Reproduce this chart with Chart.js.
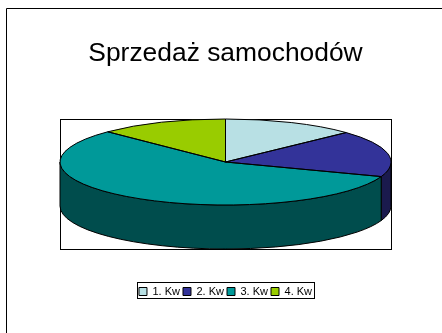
<!DOCTYPE html>
<html>
<head>
<meta charset="utf-8">
<style>
  html, body { margin: 0; padding: 0; background: #fff; }
  canvas { display: block; }
</style>
<script src="https://cdn.jsdelivr.net/npm/chart.js@4/dist/chart.umd.min.js"></script>
</head>
<body>
<canvas id="pieChart" width="442" height="333"></canvas>
<script>
const quarters = ['1. Kw', '2. Kw', '3. Kw', '4. Kw'];
const sales = [13, 17.5, 56.9, 12.6];
const topColors = ['#b8e0e4', '#333399', '#009999', '#99cc00'];
const sideColors = ['#5c7072', '#1a1a4d', '#004d4d', '#4d6600'];

// where the flattened pie sits on the page
const pieX = 225.5, pieY = 162, pieRx = 165.5, pieRy = 43, pieDepth = 44;

function ellipsePath(ctx, r, start, end, dy, reverse) {
  ctx.save();
  ctx.translate(pieX, pieY + dy);
  ctx.scale(pieRx / r, pieRy / r);
  ctx.arc(0, 0, r, start, end, reverse);
  ctx.restore();
}

const flatPie = {
  id: 'flatPie',
  beforeDraw(chart) {
    const ctx = chart.ctx;
    ctx.save();
    ctx.strokeStyle = '#000';
    ctx.lineWidth = 1;
    // slide frame, runs off the page right and bottom
    ctx.beginPath();
    ctx.moveTo(6.5, 333);
    ctx.lineTo(6.5, 8.5);
    ctx.lineTo(442, 8.5);
    ctx.stroke();
    // plot frame
    ctx.strokeRect(60.5, 119.5, 331, 130);
    ctx.restore();
  },
  beforeDatasetsDraw(chart) {
    const ctx = chart.ctx;
    const arcs = chart.getDatasetMeta(0).data;
    // side wall, only the front half of the rim shows
    arcs.forEach((arc, i) => {
      const start = Math.max(arc.startAngle, 0);
      const end = Math.min(arc.endAngle, Math.PI);
      if (end <= start) return;
      ctx.save();
      ctx.beginPath();
      ellipsePath(ctx, arc.outerRadius, start, end, 0, false);
      ellipsePath(ctx, arc.outerRadius, end, start, pieDepth, true);
      ctx.closePath();
      ctx.fillStyle = sideColors[i];
      ctx.fill();
      ctx.strokeStyle = '#000';
      ctx.lineWidth = 1;
      ctx.stroke();
      ctx.restore();
    });
    const arc = arcs[0];
    ctx.save();
    ctx.translate(pieX, pieY);
    ctx.scale(pieRx / arc.outerRadius, pieRy / arc.outerRadius);
    ctx.translate(-arc.x, -arc.y);
  },
  afterDatasetsDraw(chart) {
    const ctx = chart.ctx;
    ctx.restore();
    // outlines go on after the transform so they keep an even width
    chart.getDatasetMeta(0).data.forEach(arc => {
      ctx.save();
      ctx.beginPath();
      ctx.moveTo(pieX, pieY);
      ellipsePath(ctx, arc.outerRadius, arc.startAngle, arc.endAngle, 0, false);
      ctx.closePath();
      ctx.strokeStyle = '#000';
      ctx.lineWidth = 1;
      ctx.stroke();
      ctx.restore();
    });
  },
  afterDraw(chart) {
    const ctx = chart.ctx;
    ctx.save();
    ctx.strokeStyle = '#000';
    ctx.lineWidth = 1;
    ctx.strokeRect(137.5, 282.5, 177, 16);
    ctx.restore();
  }
};

new Chart(document.getElementById('pieChart').getContext('2d'), {
  type: 'pie',
  plugins: [flatPie],
  data: {
    labels: quarters,
    datasets: [{
      data: sales,
      backgroundColor: topColors,
      borderWidth: 0
    }]
  },
  options: {
    responsive: false,
    animation: false,
    layout: { padding: { left: 9, bottom: 26 } },
    plugins: {
      tooltip: { enabled: false },
      title: {
        display: true,
        text: 'Sprzedaż samochodów',
        color: '#000',
        font: { family: '"Liberation Sans", Arial, sans-serif', size: 26.4, weight: 'normal' },
        padding: { top: 38, bottom: 10 }
      },
      legend: {
        position: 'bottom',
        labels: {
          color: '#000',
          boxWidth: 8,
          boxHeight: 8,
          padding: 3,
          font: { family: '"Liberation Sans", Arial, sans-serif', size: 11 },
          generateLabels(chart) {
            return Chart.overrides.pie.plugins.legend.labels.generateLabels(chart).map(item => {
              item.strokeStyle = '#000';
              item.lineWidth = 1;
              return item;
            });
          }
        }
      }
    }
  }
});
</script>
</body>
</html>
